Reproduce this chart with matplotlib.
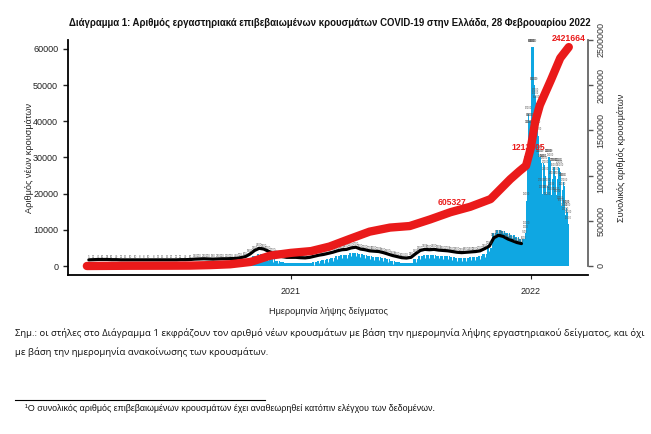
import numpy as np
import pandas as pd
import matplotlib
matplotlib.use('Agg')
import matplotlib.pyplot as plt
import matplotlib.dates as mdates
from matplotlib import font_manager

# fonts: narrow one for the chart, fallback to DejaVu for missing glyphs
names = {f.name for f in font_manager.fontManager.ttflist}
NARROW = 'Liberation Sans Narrow' if 'Liberation Sans Narrow' in names else 'Liberation Sans'
plt.rcParams['font.family'] = [NARROW, 'DejaVu Sans']

# ---- data ----
# weekly level of new cases (week start dates), 26/02/2020 - 21/12/2021
week_start = '2020-02-26'
weekly_cases = [5, 30, 70, 80, 90, 60, 40, 25, 15, 10, 10, 8, 8, 10, 8, 12, 15, 15, 20, 25,
                25, 40, 60, 140, 200, 230, 200, 180, 230, 300, 300, 350, 400, 500, 800, 1800,
                2800, 3400, 3200, 2600, 2000, 1500, 1100, 900, 900,
                900, 800, 750, 900, 1200, 1500, 1700, 2000, 2300, 2700, 3000, 3100, 3500,
                3700, 3200, 3000, 2700, 2600, 2500, 2200, 1800, 1400, 1100, 800, 700, 900,
                1900, 2800, 3100, 3000, 3100, 2900, 2800, 2700, 2500, 2300, 2200, 2300, 2400,
                2500, 2700, 3300, 5000, 9000, 10000, 9800, 9000, 8500, 8000, 7500]
# level of the dark band of daily value labels, same weeks
band_level = [1700, 1750, 1800, 1800, 1800, 1750, 1750, 1700, 1700, 1700, 1700, 1700, 1700,
              1700, 1700, 1700, 1700, 1700, 1700, 1700, 1750, 1750, 1800, 1900, 1950, 2000,
              1950, 1900, 1950, 2000, 2000, 2050, 2100, 2300, 2600, 3300, 4300, 4900, 4700,
              4100, 3500, 3000, 2600, 2400, 2400,
              2400, 2300, 2250, 2400, 2700, 3000, 3200, 3500, 3800, 4200, 4500, 4600, 5000,
              5200, 4700, 4500, 4200, 4100, 4000, 3700, 3300, 2900, 2600, 2300, 2200, 2400,
              3400, 4300, 4600, 4500, 4600, 4400, 4300, 4200, 4000, 3800, 3700, 3800, 3900,
              4000, 4200, 4800, 5500, 7800, 8500, 8200, 7500, 7000, 6500, 6200]
# daily new cases 22/12/2021 - 28/02/2022
daily_start = '2021-12-22'
daily_cases = [6000, 7500, 9000, 10000, 18000, 28000, 38000, 42000, 40000, 38000,
               40000, 60500, 60500, 60500, 60500, 50000, 50000, 47000, 46000, 45000,
               40000, 38000, 36000, 30000, 31000, 30000, 28500, 22000, 20000, 28500,
               28500, 28000, 27000, 25000, 20000, 18000, 22000, 30000, 30000, 30000, 29000,
               21000, 19500, 24000, 27500, 27500, 27500, 26000, 25000, 19500, 19000,
               24000, 27500, 27500, 27000, 26000, 17000, 16500, 21000, 23300, 23300,
               22000, 15000, 14000, 16000, 16000, 15000, 13000, 11500]
# cumulative cases
cum_dates = ['2020-02-26', '2020-04-01', '2020-05-01', '2020-06-01', '2020-07-01', '2020-08-01',
             '2020-09-01', '2020-10-01', '2020-11-01', '2020-12-01', '2021-01-01', '2021-02-01',
             '2021-03-01', '2021-04-01', '2021-05-01', '2021-06-01', '2021-07-01', '2021-08-01',
             '2021-09-01', '2021-10-01', '2021-11-01', '2021-12-01', '2021-12-15', '2021-12-25',
             '2022-01-01', '2022-01-08', '2022-01-15', '2022-02-01', '2022-02-15', '2022-02-28']
cum_values = [0, 1500, 2600, 3000, 3500, 4500, 10000, 19000, 45000, 115000, 145000, 165000,
              215000, 300000, 380000, 425000, 442000, 515000, 595000, 655000, 740000, 960000,
              1050000, 1110000, 1300000, 1600000, 1780000, 2060000, 2300000, 2421664]
label_dates = ['2021-09-03', '2021-12-28', '2022-02-28']
label_values = [605327, 1213705, 2421664]

W, H = 651, 434
fig = plt.figure(figsize=(W / 100, H / 100), dpi=100)
ax = fig.add_axes([68 / W, 1 - 275 / H, (588 - 68) / W, (275 - 40) / H])
ax2 = ax.twinx()

wk = pd.date_range(week_start, periods=len(weekly_cases), freq='7D')
dy = pd.date_range(daily_start, periods=len(daily_cases), freq='D')
wkx = mdates.date2num(wk)
dyx = mdates.date2num(dy)

BLUE = '#0FA7E2'
RED = '#EA1A1A'
ax.bar(wkx - 0.5, weekly_cases, width=7, align='edge', color=BLUE, lw=0)
ax.bar(dyx - 0.5, daily_cases, width=1, align='edge', color=BLUE, lw=0)

# white small marks just under the band
wv = np.array(weekly_cases)
keep = wv >= 1200
ax.plot(wkx[keep] + 3, wv[keep] - 250, ls='none', marker='|', ms=2.2, mew=0.7, color='white')

# dark band made of the daily value labels
ax.plot(wkx + 3, band_level, color='black', lw=2.3, solid_capstyle='round')
for x, v, b in zip(wkx + 3, weekly_cases, band_level):
    ax.text(x, b + 800, str(v), fontsize=2, color='#555555', ha='center', va='center')
for x, v in zip(dyx, daily_cases):
    ax.text(x, v + 1800, str(v), fontsize=1.8, color='#555555', ha='center', va='center')

# cumulative line
cx = mdates.date2num(pd.to_datetime(cum_dates))
ax2.plot(cx, cum_values, color=RED, lw=6, solid_capstyle='round', solid_joinstyle='round')
for d, v in zip(label_dates, label_values):
    ax2.annotate(str(v), (mdates.date2num(pd.Timestamp(d)), v), xytext=(0, 6.5),
                 textcoords='offset points', ha='center', va='center', color=RED,
                 fontsize=6.2, fontweight='bold')

base = mdates.date2num(pd.Timestamp('2021-01-01'))
ax.set_xlim(base - 338.7, base + 452.2)
ax.set_ylim(-9 * 60000 / 217, 60000 + 9 * 60000 / 217)
ax2.set_ylim(-9 * 2500000 / 226, 2500000)

yt = list(range(0, 60001, 10000))
ax.set_yticks(yt)
ax.set_yticklabels([str(v) for v in yt])
ax.set_xticks([base, mdates.date2num(pd.Timestamp('2022-01-01'))])
ax.set_xticklabels(['2021', '2022'])
ax.tick_params(axis='y', length=3.6, width=1, pad=3.5, labelsize=6.5, colors='#222222')
ax.tick_params(axis='x', length=3, width=0.8, pad=6, labelsize=6.5, colors='#222222')
for s in ['top', 'right']:
    ax.spines[s].set_visible(False)
for s in ['left', 'bottom']:
    ax.spines[s].set_linewidth(1.3)
    ax.spines[s].set_color('black')

yt2 = list(range(0, 2500001, 500000))
ax2.set_yticks(yt2)
ax2.set_yticklabels([str(v) for v in yt2], rotation=90, va='center')
ax2.tick_params(axis='y', length=3.6, width=1, pad=2.5, labelsize=6.5, colors='#555555',
                labelcolor='#333333')
for s in ['top', 'left', 'bottom']:
    ax2.spines[s].set_visible(False)
ax2.spines['right'].set_bounds(0, 2500000)
ax2.spines['right'].set_color('#666666')
ax2.spines['right'].set_linewidth(1.3)


def fx(x):
    return x / W


def fy(y):
    return 1 - y / H


texts = []
t = fig.text(fx(330), fy(23), 'Διάγραμμα 1: Αριθμός εργαστηριακά επιβεβαιωμένων κρουσμάτων '
             'COVID-19 στην Ελλάδα, 28 Φεβρουαρίου 2022', ha='center', va='center',
             fontsize=8, fontweight='bold', color='#111111')
texts.append((t, 527, 'w'))
t = fig.text(fx(328), fy(311.7), 'Ημερομηνία λήψης δείγματος', ha='center', va='center',
             fontsize=7, color='#222222')
texts.append((t, 119, 'w'))
t = fig.text(fx(30), fy(157.5), 'Αριθμός νέων κρουσμάτων', rotation=90, ha='center',
             va='center', fontsize=7, color='#222222')
texts.append((t, 109, 'h'))
t = fig.text(fx(622), fy(157.5), 'Συνολικός αριθμός κρουσμάτων', rotation=90, ha='center',
             va='center', fontsize=7, color='#222222')
texts.append((t, 127, 'h'))
t = fig.text(fx(15), fy(333.3), 'Σημ.: οι στήλες στο Διάγραμμα 1 εκφράζουν τον αριθμό νέων '
             'κρουσμάτων με βάση την ημερομηνία λήψης εργαστηριακού δείγματος, και όχι',
             ha='left', va='center', fontsize=7, color='#111111',
             family=['Open Sans', 'DejaVu Sans'])
texts.append((t, 627, 'w'))
note2 = fig.text(fx(15), fy(351.7), 'με βάση την ημερομηνία ανακοίνωσης των κρουσμάτων.',
                 ha='left', va='center', fontsize=7, color='#111111',
                 family=['Open Sans', 'DejaVu Sans'])
t = fig.text(fx(25), fy(408.3), '¹Ο συνολικός αριθμός επιβεβαιωμένων κρουσμάτων έχει '
             'αναθεωρηθεί κατόπιν ελέγχου των δεδομένων.', ha='left', va='center',
             fontsize=6, color='#111111')
texts.append((t, 417, 'w'))
fig.add_artist(plt.Line2D([fx(15), fx(265)], [fy(400), fy(400)], color='black', lw=0.8))

# scale the free texts to the widths seen in the picture
fig.canvas.draw()
r = fig.canvas.get_renderer()
for t, target, k in texts:
    bb = t.get_window_extent(r)
    size = bb.width if k == 'w' else bb.height
    t.set_fontsize(t.get_fontsize() * target / size)
note2.set_fontsize(texts[4][0].get_fontsize())

fig.savefig('out.png', dpi=100)
